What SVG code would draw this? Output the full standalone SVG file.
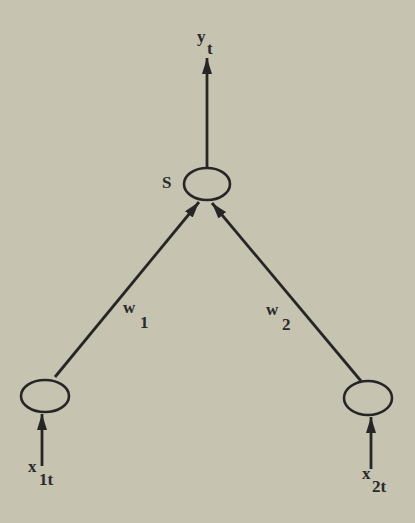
<svg xmlns="http://www.w3.org/2000/svg" width="415" height="523" viewBox="0 0 415 523">
<style>
.node{fill:none;stroke:#262626;stroke-width:2.6}
.edge{stroke:#262626;stroke-width:2.8;fill:none;marker-end:url(#ah)}
.lbl{font-family:"Liberation Serif",serif;font-size:17px;font-weight:bold;fill:#2a2a2a}
</style>
<defs>
<marker id="ah" viewBox="0 0 16 10" refX="16" refY="5" markerWidth="16" markerHeight="10" markerUnits="userSpaceOnUse" orient="auto">
<path d="M0,0 L16,5 L0,10 Z" fill="#262626"/>
</marker>
</defs>
<rect width="415" height="523" fill="#c6c3b1"/>
<g id="connectors">
<line class="edge" x1="207" y1="167" x2="207" y2="58"/>
<line class="edge" x1="55" y1="377" x2="199" y2="202"/>
<line class="edge" x1="361" y1="381" x2="212" y2="203"/>
<line class="edge" x1="42" y1="466" x2="42" y2="414"/>
<line class="edge" x1="371" y1="469" x2="371" y2="417"/>
</g>
<g id="node-S">
<ellipse class="node" cx="207" cy="184" rx="23" ry="16"/>
<text class="lbl" x="162" y="188">S</text>
</g>
<g id="node-x1">
<ellipse class="node" cx="45" cy="396" rx="24" ry="16"/>
</g>
<g id="node-x2">
<ellipse class="node" cx="368" cy="398" rx="24" ry="17"/>
</g>
<g id="labels">
<text class="lbl" x="197" y="42">y</text>
<text class="lbl" x="207" y="54">t</text>
<text class="lbl" x="123" y="313">w</text>
<text class="lbl" x="140" y="328">1</text>
<text class="lbl" x="266" y="315">w</text>
<text class="lbl" x="282" y="330">2</text>
<text class="lbl" x="28" y="472">x</text>
<text class="lbl" x="39" y="485">1t</text>
<text class="lbl" x="362" y="479">x</text>
<text class="lbl" x="372" y="492">2t</text>
</g>
</svg>
